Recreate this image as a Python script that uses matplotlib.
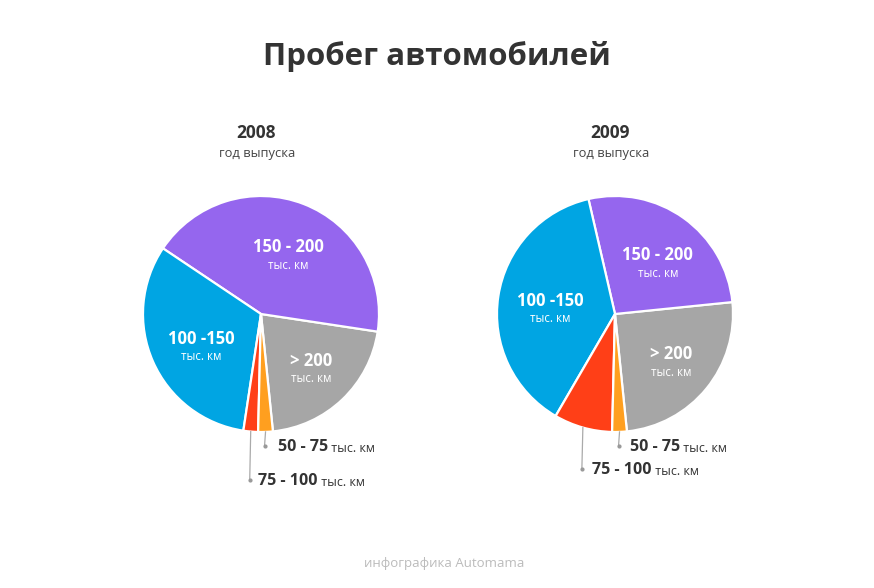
import matplotlib.pyplot as plt
import numpy as np

plt.rcParams['font.family'] = ['Open Sans', 'DejaVu Sans']

# Данные
years = ['2008', '2009']
categories = ['> 200', '150 - 200', '100 -150', '75 - 100', '50 - 75']
shares_2008 = [21, 43, 32, 2, 2]
shares_2009 = [25, 27, 38, 8, 2]
colors = ['#A6A6A6', '#9566EE', '#00A5E3', '#FF3F17', '#FF9F1F']
inside = ['> 200', '150 - 200', '100 -150']
unit = 'тыс. км'

W, H = 874, 588
fig = plt.figure(figsize=(W / 100, H / 100), dpi=100)
ax = fig.add_axes([0, 0, 1, 1])

dark = '#333333'
bold = dict(fontweight='bold', fontstretch='normal')

ax.text(W / 2, H - 56, 'Пробег автомобилей', ha='center', va='center',
        fontsize=22.5, color=dark, **bold)

# центр, радиус, старт, позиции подписей снаружи
layouts = [
    dict(cx=261, cy=H - 314, r=118, start=-84.2, lab={'50 - 75': (278, 447), '75 - 100': (258, 481)}),
    dict(cx=615, cy=H - 314, r=118, start=-84.2, lab={'50 - 75': (630, 447), '75 - 100': (592, 470)}),
]

for year, shares, lay in zip(years, [shares_2008, shares_2009], layouts):
    cx, cy, r = lay['cx'], lay['cy'], lay['r']
    wedges, _ = ax.pie(shares, colors=colors, center=(cx, cy), radius=r,
                       startangle=lay['start'], counterclock=True,
                       wedgeprops=dict(edgecolor='white', linewidth=1.6))
    ax.text(cx - 5, H - 133, year, ha='center', va='center', fontsize=12.5,
            color=dark, **bold)
    ax.text(cx - 4, H - 154, 'год выпуска', ha='center', va='center',
            fontsize=9.3, color='#444444')

    for w, cat in zip(wedges, categories):
        mid = np.deg2rad((w.theta1 + w.theta2) / 2)
        if cat in inside:
            lx = cx + 0.58 * r * np.cos(mid) + 3
            ly = cy + 0.58 * r * np.sin(mid) - 6
            ax.text(lx, ly + 9, cat, ha='center', va='center', fontsize=12,
                    color='white', **bold)
            ax.text(lx, ly - 9, unit, ha='center', va='center', fontsize=8.3,
                    color='white')
        else:
            ex = cx + r * np.cos(mid)
            ey = cy + r * np.sin(mid)
            tx, ty = lay['lab'][cat]
            ty = H - ty
            ax.plot([ex, ex - 1], [ey, ty + 1], color='#aaaaaa', lw=0.9)
            ax.plot([ex - 1], [ty + 1], 'o', color='#999999', ms=2)
            t = ax.text(tx, ty, cat, ha='left', va='center', fontsize=11.5,
                        color=dark, **bold)
            ax.annotate(' ' + unit, xy=(1, 0), xycoords=t, ha='left', va='bottom',
                        fontsize=9, color=dark)

ax.text(W / 2 + 7, H - 564, 'инфографика Automama', ha='center', va='center',
        fontsize=9.5, color='#bbbbbb')

ax.set_xlim(0, W)
ax.set_ylim(0, H)
ax.set_aspect('equal')
ax.axis('off')

fig.savefig('out.png', dpi=100)
